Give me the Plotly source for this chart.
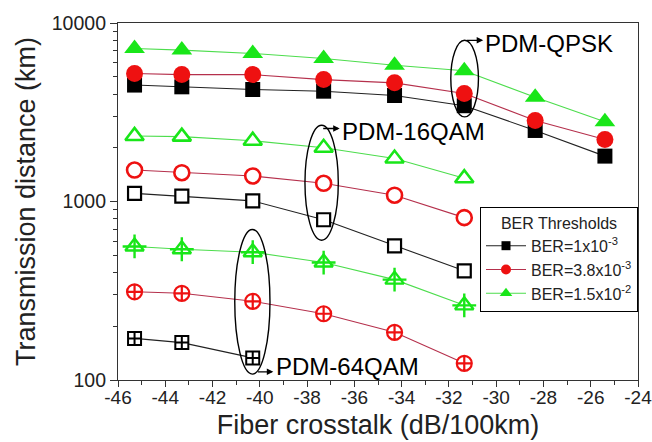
import math
import plotly.graph_objects as go

# ---------------- data ----------------
x_qpsk = [-45.3, -43.3, -40.3, -37.3, -34.3, -31.35, -28.35, -25.4]
qpsk_ber1 = [4490, 4390, 4240, 4150, 3925, 3440, 2500, 1796]
qpsk_ber2 = [5210, 5140, 5140, 4820, 4620, 4030, 2840, 2225]
qpsk_ber3 = [7200, 7050, 6750, 6330, 5800, 5400, 3840, 2800]

x_16 = [-45.3, -43.3, -40.3, -37.3, -34.3, -31.35]
q16_ber1 = [1110, 1071, 1008, 790, 564, 409]
q16_ber2 = [1500, 1450, 1390, 1265, 1085, 812]
q16_ber3 = [2330, 2310, 2190, 2000, 1740, 1350]

x_64 = [-45.3, -43.3, -40.3, -37.3, -34.3, -31.35]
q64_ber2 = [312, 306, 276, 235, 185, 124]
q64_ber3 = [560, 540, 520, 455, 365, 262]
x_64b = [-45.3, -43.3, -40.3]
q64_ber1 = [171, 162, 133]

legend_names = ["BER=1x10<sup>-3</sup>", "BER=3.8x10<sup>-3</sup>", "BER=1.5x10<sup>-2</sup>"]
legend_title = "BER Thresholds"
xticks = list(range(-46, -23, 2))
yticks = [100, 1000, 10000]

# ---------------- styles ----------------
BLACK = "#000000"
RED = "#ee1111"
GREEN = "#19e619"
LINE_BLACK = "#222222"
LINE_RED = "#b5304c"
LINE_GREEN = "#4ddd4d"
FONT = "Arial, Liberation Sans, sans-serif"

fig = go.Figure()


def add(x, y, lc, mc, symbol, size, filled=True, lw=2.2):
    if filled:
        marker = dict(symbol=symbol, size=size, color=mc, line=dict(width=0))
    else:
        marker = dict(symbol=symbol, size=size, color="white", line=dict(width=lw, color=mc))
    fig.add_trace(go.Scatter(x=x, y=y, mode="lines+markers",
                             line=dict(color=lc, width=1.1),
                             marker=marker, showlegend=False, hoverinfo="skip"))


# QPSK (filled)
add(x_qpsk, qpsk_ber1, LINE_BLACK, BLACK, "square", 15)
add(x_qpsk, qpsk_ber2, LINE_RED, RED, "circle", 17)
add(x_qpsk, qpsk_ber3, LINE_GREEN, GREEN, "triangle-up", 18)
# 16QAM (open)
add(x_16, q16_ber1, LINE_BLACK, BLACK, "square", 13, filled=False)
add(x_16, q16_ber2, LINE_RED, RED, "circle", 15, filled=False, lw=2.6)
add(x_16, q16_ber3, LINE_GREEN, GREEN, "triangle-up", 16, filled=False, lw=2.6)
# 64QAM (crossed)
add(x_64b, q64_ber1, LINE_BLACK, BLACK, "square-cross", 13, filled=False, lw=2)
add(x_64, q64_ber2, LINE_RED, RED, "circle-cross", 15, filled=False, lw=2.2)
add(x_64, q64_ber3, LINE_GREEN, GREEN, "triangle-up", 16, filled=False, lw=2.4)
fig.add_trace(go.Scatter(x=x_64, y=q64_ber3, mode="markers",
                         marker=dict(symbol="cross-thin", size=17, color=GREEN,
                                     line=dict(width=2.4, color=GREEN)),
                         showlegend=False, hoverinfo="skip"))

# legend entries
for name, lc, mc, sym, sz in [(legend_names[0], LINE_BLACK, BLACK, "square", 9),
                              (legend_names[1], LINE_RED, RED, "circle", 10),
                              (legend_names[2], LINE_GREEN, GREEN, "triangle-up", 11)]:
    fig.add_trace(go.Scatter(x=[None], y=[None], mode="lines+markers", name=name,
                             line=dict(color=lc, width=1.1),
                             marker=dict(symbol=sym, size=sz, color=mc)))


def dom(v):
    return (math.log10(v) - 2) / 2.0


# ellipses
for (x0, x1, y0, y1) in [(-31.92, -30.75, 10 ** 3.474, 10 ** 3.903),
                         (-38.09, -36.68, 10 ** 2.783, 10 ** 3.427),
                         (-41.06, -39.57, 10 ** 2.033, 10 ** 2.843)]:
    fig.add_shape(type="circle", xref="x", yref="y domain",
                  x0=x0, x1=x1, y0=dom(y0), y1=dom(y1),
                  line=dict(color="black", width=1.4))

# arrows + labels
for (hx, hy, axp, ayp) in [(-30.55, 10 ** 3.903, -18, 0),
                           (-36.62, 10 ** 3.409, -18, 0),
                           (-39.43, 10 ** 2.046, -17, 0)]:
    fig.add_annotation(x=hx, y=dom(hy), xref="x", yref="y domain", text="",
                       showarrow=True, ax=axp, ay=ayp, arrowhead=2, arrowsize=1,
                       arrowwidth=1.3, arrowcolor="black")

for (tx, ty, txt) in [(-30.55, 10 ** 3.885, "PDM-QPSK"),
                      (-36.6, 10 ** 3.390, "PDM-16QAM"),
                      (-39.4, 10 ** 2.078, "PDM-64QAM")]:
    fig.add_annotation(x=tx, y=dom(ty), xref="x", yref="y domain", text=txt,
                       showarrow=False, xanchor="left", yanchor="middle",
                       font=dict(family=FONT, size=24, color="black"))

fig.update_layout(
    width=652, height=442,
    margin=dict(l=118, r=14, t=23, b=62, autoexpand=False),
    paper_bgcolor="white", plot_bgcolor="white",
    font=dict(family=FONT, color="black"),
    legend=dict(x=1, xanchor="right", y=0.4846, yanchor="top",
                bgcolor="white", bordercolor="black", borderwidth=1,
                font=dict(family=FONT, size=16, color="#222"),
                title=dict(text=legend_title, side="top center",
                           font=dict(family=FONT, size=16, color="#222")),
                itemwidth=40, tracegroupgap=0),
)

fig.update_xaxes(range=[-46, -24], tickvals=xticks, ticktext=[str(v) for v in xticks],
                 automargin=False, ticklabeloverflow="allow", ticklabelstandoff=-6,
                 ticks="outside", ticklen=6, tickwidth=1, tickcolor="#333",
                 minor=dict(dtick=1, tick0=-46, ticks="outside", ticklen=4, tickcolor="#333"),
                 showline=True, linecolor="#333", linewidth=1.2, mirror=True,
                 showgrid=False, zeroline=False,
                 tickfont=dict(family=FONT, size=19, color="#222"),
                 title=dict(text="Fiber crosstalk (dB/100km)",
                            font=dict(family=FONT, size=27, color="#222"), standoff=8))

minor_y = [m * 10 ** e for e in (2, 3) for m in range(2, 10)]
fig.update_yaxes(type="log", range=[2, 4], tickvals=yticks,
                 ticktext=[str(v) for v in yticks],
                 automargin=False, ticklabeloverflow="allow",
                 ticks="outside", ticklen=7, tickwidth=1, tickcolor="#333",
                 minor=dict(tickvals=minor_y, ticks="outside", ticklen=4, tickcolor="#333"),
                 showline=True, linecolor="#333", linewidth=1.2, mirror=True,
                 showgrid=False, zeroline=False,
                 tickfont=dict(family=FONT, size=19.5, color="#222"),
                 title=dict(text="Transmission distance (km)",
                            font=dict(family=FONT, size=27, color="#222"), standoff=8))

# remove the default 8px page margin so the 652x442 figure fills the window exactly
fig.write_html("out.html", config={"displayModeBar": False},
               post_script="document.body.style.margin='0';document.body.style.overflow='hidden';")
